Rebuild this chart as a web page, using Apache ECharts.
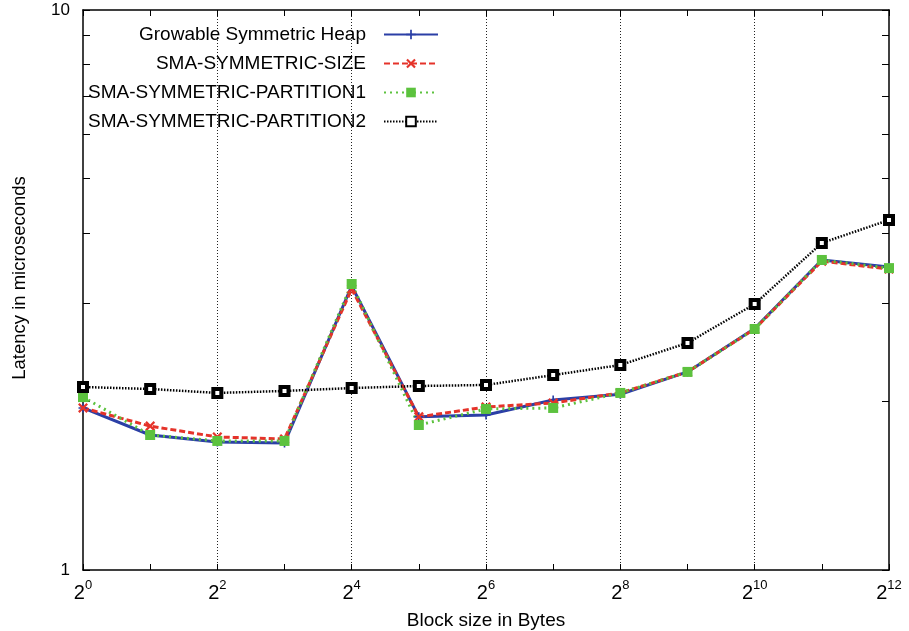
<!DOCTYPE html>
<html><head><meta charset="utf-8">
<script src="https://cdn.jsdelivr.net/npm/echarts@6/dist/echarts.min.js"></script>
<style>html,body{margin:0;padding:0;background:#fff}#c{width:909px;height:631px}</style>
</head><body><div id="c"></div>
<script>
// Block sizes as powers of two (exponents)
var exponents = [0,1,2,3,4,5,6,7,8,9,10,11,12];
var seriesNames = ['Growable Symmetric Heap','SMA-SYMMETRIC-SIZE','SMA-SYMMETRIC-PARTITION1','SMA-SYMMETRIC-PARTITION2'];
var growable   = [1.947,1.742,1.693,1.686,3.215,1.877,1.892,2.012,2.060,2.258,2.700,3.578,3.476];
var symSize    = [1.947,1.807,1.728,1.714,3.175,1.877,1.955,1.987,2.071,2.258,2.694,3.560,3.447];
var partition1 = [2.036,1.742,1.700,1.700,3.241,1.815,1.939,1.947,2.071,2.258,2.694,3.578,3.460];
var partition2 = [2.122,2.105,2.071,2.088,2.113,2.131,2.140,2.229,2.323,2.544,2.985,3.837,4.217];
var yTicks = [1,2,3,4,5,6,7,8,9,10];
var yLabels = [1,10];

var FONT = 'Liberation Sans';
var cats = exponents.map(function(e){return String(e);});
var chart = echarts.init(document.getElementById('c'), null, {renderer:'canvas'});
var plusPath = 'path://M4.1,0H5.9V4.1H10V5.9H5.9V10H4.1V5.9H0V4.1H4.1Z';
var xPath = 'path://M1.6,0L5,3.4L8.4,0L10,1.6L6.6,5L10,8.4L8.4,10L5,6.6L1.6,10L0,8.4L3.4,5L0,1.6Z';
var tickStyle = {show:true, inside:true, length:6, lineStyle:{color:'#000', width:1}};
var option = {
  animation:false,
  textStyle:{fontFamily:FONT},
  grid:{left:83, right:20, top:10, bottom:61, containLabel:false, outerBoundsMode:'none'},
  legend:{
    orient:'vertical', align:'right', right:465, top:20, itemWidth:54, itemHeight:12, itemGap:10,
    textStyle:{fontFamily:FONT, fontSize:19, color:'#000', padding:[0,13,0,0]},
    data:seriesNames.map(function(n){return {name:n};})
  },
  xAxis:[{
    type:'category', data:cats, boundaryGap:false,
    name:'Block size in Bytes', nameLocation:'middle', nameGap:41,
    nameTextStyle:{fontFamily:FONT, fontSize:19, color:'#000'},
    axisLine:{lineStyle:{color:'#000', width:1.5}},
    axisTick:Object.assign({interval:0}, tickStyle),
    axisLabel:{interval:function(i){return i%2===0;}, margin:9, color:'#000',
      formatter:function(v){return '{b|2}{s|'+v+'}';},
      rich:{b:{fontSize:20, fontFamily:FONT, color:'#000', lineHeight:24, verticalAlign:'bottom'},
            s:{fontSize:13, fontFamily:FONT, color:'#000', lineHeight:24, verticalAlign:'top'}}},
    splitLine:{show:true, interval:function(i){return i%2===0 && i>0 && i<12;},
      lineStyle:{color:'#222', width:1, type:[1,2]}}
  },{
    type:'category', data:cats, boundaryGap:false, position:'top',
    axisLine:{lineStyle:{color:'#000', width:1.5}},
    axisTick:Object.assign({interval:0}, tickStyle),
    axisLabel:{show:false}, splitLine:{show:false}
  }],
  yAxis:[{
    type:'log', logBase:10, min:1, max:10,
    name:'Latency in microseconds', nameLocation:'middle', nameGap:54,
    nameTextStyle:{fontFamily:FONT, fontSize:18.5, color:'#000', padding:[0,0,0,24]},
    axisLine:{show:true, lineStyle:{color:'#000', width:1.5}},
    axisTick:Object.assign({customValues:yTicks}, tickStyle, {length:7}),
    axisLabel:{customValues:yLabels, fontSize:17, color:'#000', margin:13, fontFamily:FONT},
    splitLine:{show:false}, minorSplitLine:{show:false}
  },{
    type:'log', logBase:10, min:1, max:10, position:'right',
    axisLine:{show:true, lineStyle:{color:'#000', width:1.5}},
    axisTick:Object.assign({customValues:yTicks}, tickStyle, {length:7}),
    axisLabel:{show:false}, splitLine:{show:false}
  }],
  series:[
    {name:seriesNames[0], type:'line', data:growable, symbol:plusPath, symbolSize:9,
     lineStyle:{color:'#2b3fa6', width:3}, itemStyle:{color:'#2b3fa6'}},
    {name:seriesNames[1], type:'line', data:symSize, symbol:xPath, symbolSize:10,
     lineStyle:{color:'#e5332a', width:3, type:[6,3]}, itemStyle:{color:'#e5332a'}},
    {name:seriesNames[2], type:'line', data:partition1, symbol:'rect', symbolSize:10,
     lineStyle:{color:'#5cc23e', width:3, type:[2,4]}, itemStyle:{color:'#5cc23e'}},
    {name:seriesNames[3], type:'line', data:partition2, symbol:'rect', symbolSize:8,
     lineStyle:{color:'#000', width:2.5, type:[1.5,1.5]},
     itemStyle:{color:'#fff', borderColor:'#000', borderWidth:4}}
  ]
};
chart.setOption(option);
</script>
</body></html>
